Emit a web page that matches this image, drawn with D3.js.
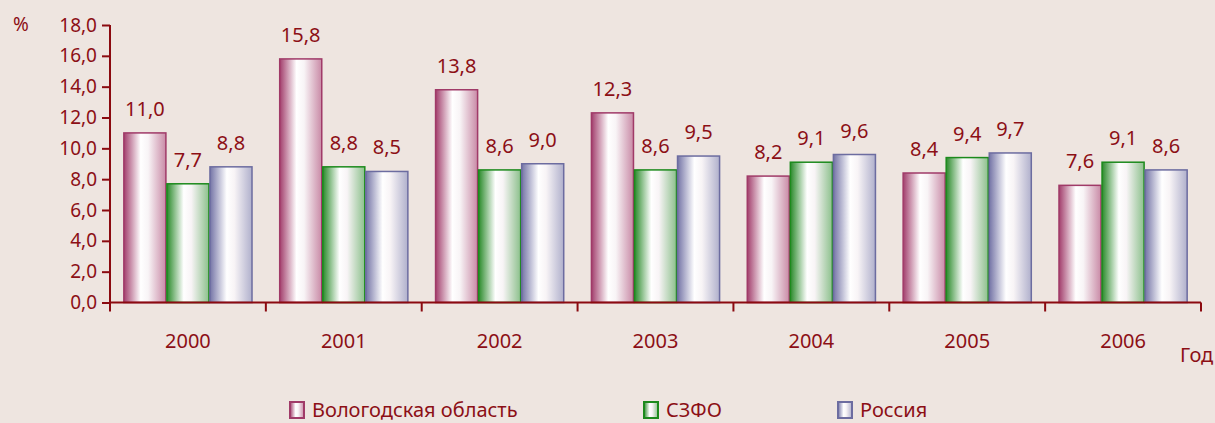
<!DOCTYPE html>
<html lang="ru">
<head>
<meta charset="UTF-8">
<script src="https://cdn.jsdelivr.net/npm/d3@7"></script>
<style>
  body { margin: 0; background: #eee5e0; }
  svg { display: block; font-family: "Noto Sans", sans-serif; }
  text { fill: #8c0f16; }
</style>
</head>
<body>
<script>
var years = ["2000", "2001", "2002", "2003", "2004", "2005", "2006"];
var series = ["Вологодская область", "СЗФО", "Россия"];
var vologda = [11.0, 15.8, 13.8, 12.3, 8.2, 8.4, 7.6];
var szfo = [7.7, 8.8, 8.6, 8.6, 9.1, 9.4, 9.1];
var russia = [8.8, 8.5, 9.0, 9.5, 9.6, 9.7, 8.6];
var yTicks = [0, 2, 4, 6, 8, 10, 12, 14, 16, 18];

var values = [vologda, szfo, russia];
var width = 1215, height = 423;
var colors = [
  { id: "g0", edge: "#a23e6c", mid: "#c98aa6", stroke: "#a03a68" },
  { id: "g1", edge: "#2a8a2a", mid: "#8cc08c", stroke: "#1c8a1c" },
  { id: "g2", edge: "#7474a6", mid: "#b0b0cc", stroke: "#6c6ca0" }
];

var svg = d3.select("body").append("svg").attr("width", width).attr("height", height);

var defs = svg.append("defs");
colors.forEach(function(c) {
  var g = defs.append("linearGradient").attr("id", c.id)
    .attr("x1", "0%").attr("x2", "100%").attr("y1", "0%").attr("y2", "0%");
  g.append("stop").attr("offset", "0%").attr("stop-color", c.edge);
  g.append("stop").attr("offset", "40%").attr("stop-color", "#ffffff");
  g.append("stop").attr("offset", "58%").attr("stop-color", "#f8f4f6");
  g.append("stop").attr("offset", "100%").attr("stop-color", c.mid);
});

var x0 = d3.scaleBand().domain(years).range([110, 1201]);
var x1 = d3.scaleBand().domain(d3.range(3)).range([0, x0.bandwidth()]).paddingInner(0).paddingOuter(0.31);
var y = d3.scaleLinear().domain([0, 18]).range([302.5, 25]);

var fmt = function(d) { return d3.format(".1f")(d).replace(".", ","); };

// y axis
var yAxis = d3.axisLeft(y).tickValues(yTicks).tickSize(8).tickPadding(5).tickFormat(fmt);
var gy = svg.append("g").attr("transform", "translate(110,0)").call(yAxis);
gy.selectAll("path, line").attr("stroke", "#8b0a10").attr("stroke-width", 2);
gy.select(".domain").attr("d", "M0," + y(18) + "V" + y(0));
gy.selectAll("text").style("font-size", "19px").style("font-family", "Noto Sans").attr("fill", "#8c0f16");

// bars
var groups = svg.append("g").selectAll("g").data(years).join("g")
  .attr("transform", function(d) { return "translate(" + x0(d) + ",0)"; });

groups.each(function(yr, i) {
  var g = d3.select(this);
  values.forEach(function(arr, s) {
    var v = arr[i];
    g.append("rect")
      .attr("x", x1(s) + 0.5)
      .attr("y", y(v))
      .attr("width", x1.bandwidth() - 1)
      .attr("height", y(0) - y(v))
      .attr("fill", "url(#" + colors[s].id + ")")
      .attr("stroke", colors[s].stroke)
      .attr("stroke-width", 1.5);
    g.append("text")
      .attr("x", x1(s) + x1.bandwidth() / 2)
      .attr("y", y(v) - 17)
      .attr("text-anchor", "middle")
      .style("font-size", "20px")
      .text(fmt(v));
  });
});

// x axis
svg.append("line").attr("x1", 110).attr("x2", 1201).attr("y1", y(0)).attr("y2", y(0))
  .attr("stroke", "#8b0a10").attr("stroke-width", 2);
var edges = years.map(function(d) { return x0(d); }).concat([x0.range()[1]]);
svg.append("g").selectAll("line").data(edges).join("line")
  .attr("x1", function(d) { return d; }).attr("x2", function(d) { return d; })
  .attr("y1", y(0)).attr("y2", y(0) + 9)
  .attr("stroke", "#8b0a10").attr("stroke-width", 2);
svg.append("g").selectAll("text").data(years).join("text")
  .attr("x", function(d) { return x0(d) + x0.bandwidth() / 2; })
  .attr("y", 348)
  .attr("text-anchor", "middle")
  .style("font-size", "20px")
  .text(function(d) { return d; });

svg.append("text").attr("x", 13).attr("y", 31).style("font-size", "19px").text("%");
svg.append("text").attr("x", 1180).attr("y", 362).style("font-size", "20px").text("Год");

// legend
var legendX = [290, 644, 838];
var lg = svg.append("g").selectAll("g").data(series).join("g")
  .attr("transform", function(d, i) { return "translate(" + legendX[i] + ",402)"; });
lg.append("rect").attr("x", 0).attr("y", 0).attr("width", 14).attr("height", 16)
  .attr("fill", function(d, i) { return "url(#" + colors[i].id + ")"; })
  .attr("stroke", function(d, i) { return colors[i].stroke; })
  .attr("stroke-width", 2);
lg.append("text").attr("x", 22).attr("y", 15).style("font-size", "20px").text(function(d) { return d; });
</script>
</body>
</html>
